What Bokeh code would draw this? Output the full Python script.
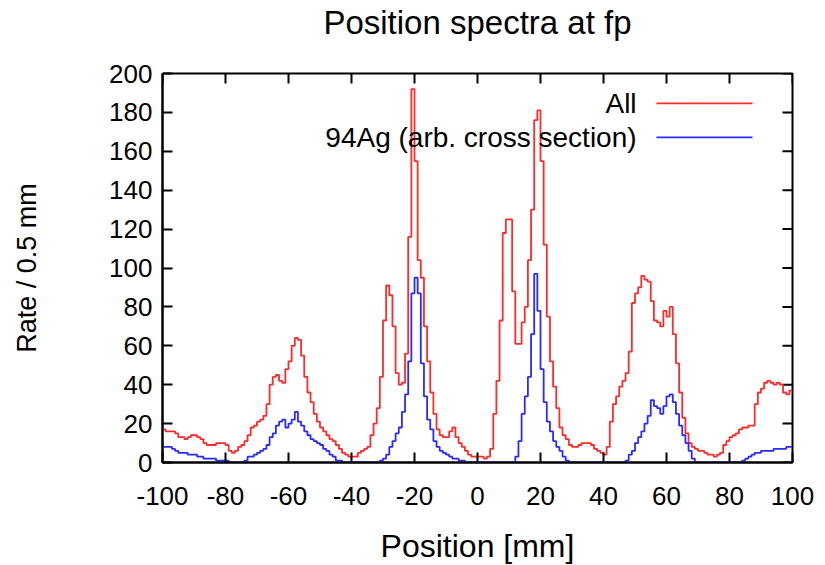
from bokeh.plotting import figure
from bokeh.models import Range1d, FixedTicker, Label, BoxAnnotation, LinearAxis, Title
from bokeh.embed import file_html
from bokeh.resources import INLINE

# ---- data (1 mm bins from -100 to 100) ----
bin_start = -100
bin_width = 1

all_rate = [
    17, 16, 16, 16, 15, 13, 13, 12, 13, 14, 14, 13, 12, 10, 9, 9, 9, 10, 10, 10,
    9, 6, 5, 6, 8, 9, 11, 14, 18, 19, 21, 22, 24, 30, 40, 44, 45, 42, 41, 48,
    52, 60, 64, 63, 55, 44, 36, 31, 25, 21, 18, 16, 14, 12, 11, 9, 7, 5, 4, 3,
    3, 3, 5, 6, 7, 8, 14, 20, 28, 44, 73, 91, 86, 70, 46, 40, 41, 56, 116, 192,
    155, 104, 95, 70, 52, 36, 25, 17, 14, 13, 13, 16, 18, 13, 10, 8, 6, 4, 3, 3,
    3, 3, 2, 3, 7, 25, 42, 73, 118, 125, 125, 88, 61, 61, 72, 80, 104, 130, 176, 181,
    155, 112, 75, 52, 39, 28, 18, 14, 12, 9, 8, 8, 9, 10, 10, 10, 9, 7, 6, 5,
    4, 8, 21, 30, 34, 39, 42, 46, 57, 82, 87, 90, 96, 94, 93, 83, 73, 72, 70, 78,
    75, 80, 66, 51, 36, 23, 15, 10, 8, 7, 6, 6, 5, 4, 4, 3, 4, 5, 9, 11,
    13, 14, 15, 17, 18, 18, 19, 19, 30, 36, 38, 41, 42, 41, 40, 41, 40, 36, 35, 37,
]

ag94_rate = [
    8, 8, 8, 7, 6, 5, 5, 5, 4, 4, 4, 3, 3, 2, 2, 2, 2, 1, 1, 1,
    1, 0, 0, 0, 0, 0, 1, 3, 3, 4, 5, 6, 7, 9, 13, 15, 19, 21, 22, 18,
    20, 22, 26, 21, 19, 16, 14, 12, 11, 10, 9, 7, 6, 4, 3, 1, 1, 0, 0, 0,
    0, 0, 0, 0, 0, 0, 0, 0, 0, 1, 2, 4, 8, 11, 15, 18, 26, 35, 52, 87,
    95, 87, 51, 34, 22, 17, 11, 8, 6, 5, 4, 3, 2, 2, 1, 1, 0, 0, 0, 0,
    0, 0, 0, 0, 0, 0, 0, 0, 0, 0, 0, 0, 3, 11, 25, 34, 44, 66, 97, 78,
    48, 31, 21, 16, 11, 8, 6, 3, 1, 0, 0, 0, 0, 0, 0, 0, 0, 0, 0, 0,
    0, 0, 0, 0, 0, 0, 0, 1, 4, 6, 10, 13, 16, 20, 24, 32, 29, 28, 25, 29,
    34, 35, 31, 25, 19, 14, 10, 6, 2, 0, 0, 0, 0, 0, 0, 0, 0, 0, 0, 0,
    0, 0, 0, 0, 1, 2, 3, 4, 5, 5, 6, 6, 6, 6, 7, 7, 7, 7, 8, 8,
]

title_text = "Position spectra at fp"
series_labels = ["All", "94Ag (arb. cross section)"]
x_ticks = [-100, -80, -60, -40, -20, 0, 20, 40, 60, 80, 100]
x_tick_labels = ["-100", "-80", "-60", "-40", "-20", "0", "20", "40", "60", "80", "100"]
y_ticks = [0, 20, 40, 60, 80, 100, 120, 140, 160, 180, 200]
y_tick_labels = ["0", "20", "40", "60", "80", "100", "120", "140", "160", "180", "200"]

edges = [bin_start + i * bin_width for i in range(len(all_rate) + 1)]
all_ext = all_rate + [all_rate[-1]]
ag_ext = ag94_rate + [ag94_rate[-1]]

FONT = "Liberation Sans"
RED = "#ff2a2a"
BLUE = "#2a2aff"
X0, X1, Y0, Y1 = -100, 100, 0, 200
FW, FH = 630, 389
LEFT, TOP = 162, 73
TICK_PX = 10
px_y = (Y1 - Y0) / FH   # data units per pixel (y)
px_x = (X1 - X0) / FW   # data units per pixel (x)

p = figure(
    width=825, height=565,
    frame_width=FW, frame_height=FH,
    min_border_left=LEFT, min_border_right=33,
    min_border_top=TOP, min_border_bottom=103,
    x_range=Range1d(X0, X1), y_range=Range1d(Y0, Y1),
    output_backend="svg", toolbar_location=None,
)
p.background_fill_color = "white"
p.border_fill_color = "white"
p.xgrid.visible = False
p.ygrid.visible = False
p.outline_line_color = "black"
p.outline_line_width = 2

def style_axis(ax, ticks, labels):
    ax.ticker = FixedTicker(ticks=ticks)
    ax.major_label_overrides = {t: l for t, l in zip(ticks, labels)}
    ax.axis_line_color = "black"
    ax.axis_line_width = 2
    ax.major_tick_line_color = "black"
    ax.major_tick_line_width = 2
    ax.major_tick_in = TICK_PX
    ax.major_tick_out = 0
    ax.minor_tick_line_color = None
    ax.major_label_text_font = FONT
    ax.major_label_text_color = "black"
    ax.major_label_text_font_size = "26px"
    ax.axis_label_text_font = FONT
    ax.axis_label_text_font_style = "normal"
    ax.axis_label_text_color = "black"

xa = p.xaxis[0]
ya = p.yaxis[0]
style_axis(xa, x_ticks, x_tick_labels)
style_axis(ya, y_ticks, y_tick_labels)
xa.major_label_standoff = 24
ya.major_label_standoff = 10
xa.axis_label = "Position [mm]"
ya.axis_label = "Rate / 0.5 mm"
xa.axis_label_text_font_size = "32px"
ya.axis_label_text_font_size = "27px"
xa.axis_label_standoff = 20
ya.axis_label_standoff = 64

# spacer between frame and title: a top axis with one white, outward tick, no labels
spacer = LinearAxis(ticker=FixedTicker(ticks=[X0]), axis_line_color=None,
                    major_tick_out=33, major_tick_in=0,
                    major_tick_line_color="white", major_tick_line_width=1,
                    minor_tick_line_color=None,
                    major_label_text_color=None, major_label_standoff=0)
p.add_layout(spacer, "above")
p.add_layout(Title(text=title_text, align="center", text_font=FONT,
                   text_font_size="33px", text_font_style="normal",
                   text_color="black", standoff=0), "above")

# mirror ticks on top and right border (gnuplot style)
dx = TICK_PX * px_x
dy = TICK_PX * px_y
p.segment(x0=x_ticks, y0=[Y1] * len(x_ticks), x1=x_ticks, y1=[Y1 - dy] * len(x_ticks),
          line_color="black", line_width=2)
p.segment(x0=[X1] * len(y_ticks), y0=y_ticks, x1=[X1 - dx] * len(y_ticks), y1=y_ticks,
          line_color="black", line_width=2)

p.step(edges, all_ext, mode="after", line_color=RED, line_width=1.8)
p.step(edges, ag_ext, mode="after", line_color=BLUE, line_width=1.8)

# key (gnuplot style: text right-aligned, sample line to the right)
key_text_x = 50.5
key_line_x0, key_line_x1 = 56.8, 87.3
key_rows_y = [184.6, 167.1]
for lab, col, ky in zip(series_labels, [RED, BLUE], key_rows_y):
    p.add_layout(Label(x=key_text_x, y=ky, text=lab, text_align="right",
                       text_baseline="middle", text_font=FONT,
                       text_font_size="28px", text_color="black"))
    p.add_layout(BoxAnnotation(left=key_line_x0, right=key_line_x1,
                               bottom=ky - 0.45, top=ky + 0.45,
                               fill_color=col, fill_alpha=1.0,
                               line_color=None))

open("out.html", "w").write(file_html(p, INLINE))
